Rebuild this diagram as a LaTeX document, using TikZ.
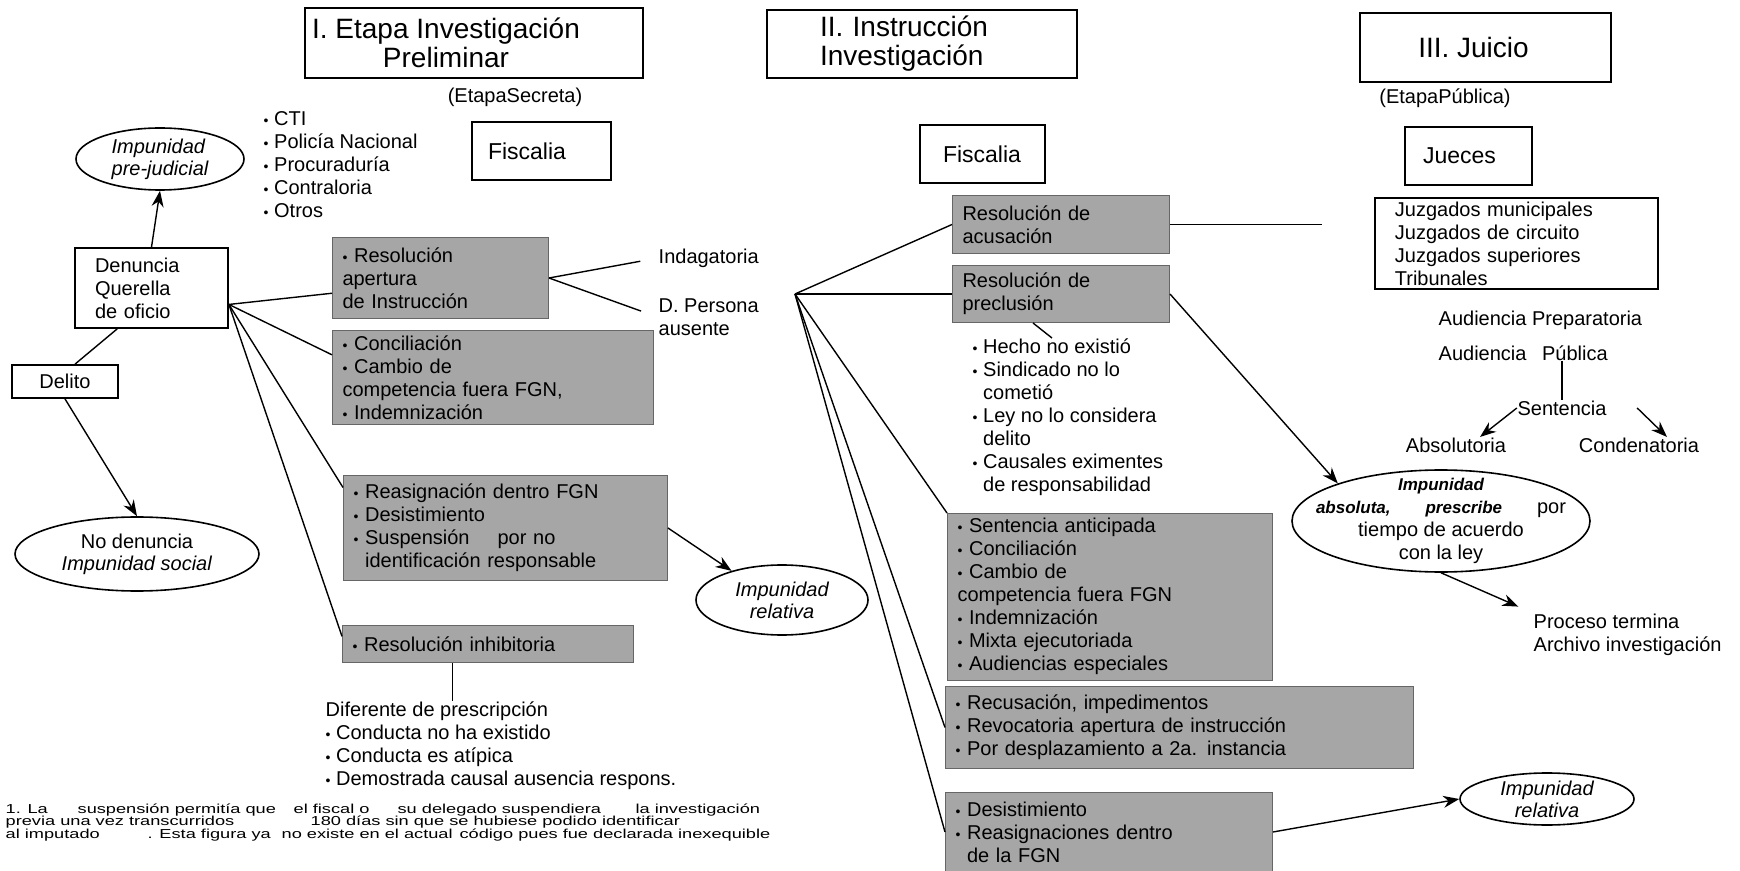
\documentclass[tikz,border=0pt]{standalone}
\usepackage{fontspec}
\setmainfont{Liberation Sans}
\newfontfamily\notefont{Liberation Sans}[FakeStretch=1.4]
\usetikzlibrary{arrows.meta,shapes.geometric}
\newcommand{\bu}{{\scriptsize\textbullet}\ }
\newcommand{\bfit}[1]{{\fontsize{8.5}{11}\selectfont\bfseries\itshape #1}}

\begin{document}
\begin{tikzpicture}[x=0.5pt, y=-0.5pt, line width=0.7pt,
  every node/.style={font=\fontsize{10}{11.5}\selectfont},
  titlebox/.style={draw, line width=1pt},
  titletxt/.style={inner sep=0pt, align=center, font=\fontsize{14}{14.5}\selectfont},
  plainbox/.style={draw, line width=0.9pt, inner sep=0pt},
  namebox/.style={plainbox, align=left, minimum height=29pt, font=\fontsize{11.5}{12}\selectfont},
  shbox/.style={fill=black!35, draw=black!60, line width=0.5pt, anchor=north west, align=left,
    inner xsep=5pt, inner ysep=2.5pt, text width=#1},
  oval/.style={ellipse, draw, line width=0.8pt, inner sep=0pt, align=center,
    font=\fontsize{10}{11}\selectfont\itshape},
  txt/.style={inner sep=0pt, align=left},
  arr/.style={-{Stealth[length=8pt,width=6pt]}}]
  \useasboundingbox (0,0) rectangle (1740,871);

  % Stage headers
  \node[titlebox, minimum width=169pt, minimum height=35pt,
    label={[titletxt, xshift=-14pt]center:{I. Etapa Investigación\\Preliminar}}] (etapa1) at (474,43) {};
  \node[titlebox, titletxt, minimum width=155pt, minimum height=34pt, align=left, text width=102pt, inner xsep=26.5pt] (etapa2) at (922,44) {II. Instrucción\\Investigación};
  \node[titlebox, minimum width=125.5pt, minimum height=34.5pt,
    label={[titletxt, xshift=-6pt]center:{III. Juicio}}] (etapa3) at (1485.5,47.5) {};
  \node[txt] (secreta) at (515,97) {(EtapaSecreta)};
  \node[txt] (publica) at (1445,98) {(EtapaPública)};

  % Who acts in each stage
  \node[namebox, text width=53.5pt, inner xsep=8pt] (fisc1) at (541.5,151) {Fiscalia};
  \node[namebox, text width=39.5pt, inner xsep=11.5pt] (fisc2) at (982.5,154) {Fiscalia};
  \node[namebox, text width=45.5pt, inner xsep=9pt] (jueces) at (1468.5,156) {Jueces};
  \node[plainbox, anchor=north west, minimum height=45.5pt, text width=121.5pt, inner xsep=10pt, align=left] (juzg) at (1374,197) {Juzgados municipales\\Juzgados de circuito\\Juzgados superiores\\Tribunales};
  \node[txt, anchor=north west] (entes) at (263,111) {\bu CTI\\\bu Policía Nacional\\\bu Procuraduría\\\bu Contraloria\\\bu Otros};

  % Stage I
  \node[oval, minimum width=84pt, minimum height=31pt, align=left] (imppre) at (160,159) {Impunidad\\pre-judicial};
  \node[plainbox, minimum width=76.5pt, minimum height=40pt, text width=56.5pt, inner xsep=10pt, align=left] (denun) at (151.5,288) {Denuncia\\Querella\\de oficio};
  \node[plainbox, minimum width=53pt, minimum height=16.5pt] (delito) at (65,381.5) {Delito};
  \node[oval, minimum width=122pt, minimum height=37pt, font=\fontsize{10}{11}\selectfont] (nodenun) at (137,554) {No denuncia\\\textit{Impunidad social}};

  \node[shbox=98pt, minimum height=40.5pt] (resap) at (332,237) {\bu Resolución\\apertura\\de Instrucción};
  \node[shbox=150.5pt] (concil) at (332,330) {\bu Conciliación\\\bu Cambio de\\competencia fuera FGN,\\\bu Indemnización};
  \node[shbox=152pt, minimum height=52.5pt] (reasig) at (343,475) {\bu Reasignación dentro FGN\\\bu Desistimiento\\\bu Suspensión\hspace{14pt}por no\\\hphantom{\bu}identificación responsable};
  \node[shbox=135.5pt, minimum height=18.5pt] (inhib) at (342,625) {\bu Resolución inhibitoria};
  \node[txt, anchor=west] (indag) at (658,258) {Indagatoria};
  \node[txt, anchor=north west] (dpers) at (658,298) {D. Persona\\ausente};
  \node[oval, minimum width=86pt, minimum height=35pt] (imprel1) at (782,600) {Impunidad\\relativa};
  \node[txt, anchor=north west] (difer) at (325,701) {Diferente de prescripción\\\bu Conducta no ha existido\\\bu Conducta es atípica\\\bu Demostrada causal ausencia respons.};

  % footnote
  \node[txt, anchor=north west, font={\fontsize{6.5}{6.3}\notefont\lineskiplimit=-5pt}] (nota) at (5,803) {%
    \makebox[36pt][l]{1. La}\makebox[108pt][l]{suspensión permitía que}\makebox[52pt][l]{el fiscal o}\makebox[119pt][l]{su delegado suspendiera}la investigación\\
    \makebox[152.5pt][l]{previa una vez transcurridos}180 días sin que se hubiese podido identificar\\
    \makebox[71pt][l]{al imputado}\makebox[67pt][l]{. Esta figura ya}\makebox[89pt][l]{no existe en el actual}código pues fue declarada inexequible};

  % Stage II
  \node[shbox=98.5pt, minimum height=29pt] (acus) at (952,195) {Resolución de\\acusación};
  \node[shbox=98.5pt, minimum height=28.5pt] (precl) at (952,265) {Resolución de\\preclusión};
  \node[txt, anchor=north west] (hecho) at (972,338) {\bu Hecho no existió\\\bu Sindicado no lo\\\hphantom{\bu}cometió\\\bu Ley no lo considera\\\hphantom{\bu}delito\\\bu Causales eximentes\\\hphantom{\bu}de responsabilidad};
  \node[shbox=152.5pt, minimum height=82pt] (sent) at (947,513) {\bu Sentencia anticipada\\\bu Conciliación\\\bu Cambio de\\competencia fuera FGN\\\bu Indemnización\\\bu Mixta ejecutoriada\\\bu Audiencias especiales};
  \node[shbox=224pt, minimum height=41pt] (recus) at (945,686) {\bu Recusación, impedimentos\\\bu Revocatoria apertura de instrucción\\\bu Por desplazamiento a 2a. instancia};
  \node[shbox=153.5pt, minimum height=39.5pt] (desist) at (945,792) {\bu Desistimiento\\\bu Reasignaciones dentro\\\hphantom{\bu}de la FGN};
  \node[oval, minimum width=149pt, minimum height=51pt,
    label={[txt, align=center]center:\bfit{Impunidad}\\\makebox[125pt]{\bfit{absoluta,}\hfill\bfit{prescribe}\hfill por}\\tiempo de acuerdo\\con la ley}] (absol) at (1441,521) {};
  \node[txt, anchor=north west] (proc) at (1533,613) {Proceso termina\\Archivo investigación};
  \node[oval, minimum width=87pt, minimum height=26pt] (imprel2) at (1547,799) {Impunidad\\relativa};

  % Stage III
  \node[txt, anchor=west] (audprep) at (1438,320) {Audiencia Preparatoria};
  \node[txt, anchor=west] (audpub) at (1438,353) {Audiencia\hspace{7.8pt}Pública};
  \node[txt] (sentc) at (1562,408) {Sentencia};
  \node[txt] (absolut) at (1456,445) {Absolutoria};
  \node[txt] (conden) at (1639,445) {Condenatoria};

  % Connectors, stage I
  \draw[arr] (denun.north) -- (imppre.south);
  \draw (denun.230) -- (delito.60);
  \draw[arr] (delito.south) -- (nodenun.north);
  \coordinate (fanA) at (denun.-12); % lines leave Denuncia here
  \foreach \t in {resap.188, concil.172, reasig.166, inhib.177}
    \draw (fanA) -- (\t);
  \draw[shorten >=9pt] (resap.east) -- (indag.west);
  \draw[shorten >=9pt] (resap.east) -- (dpers.west);
  \draw[arr] (reasig.east) -- (imprel1.150);
  \coordinate (inhibfoot) at ([xshift=-17.75pt]inhib.south);
  \draw (inhibfoot) -- (inhibfoot |- difer.north);

  % Connectors, stage II
  \coordinate (fanB) at ([xshift=-78.5pt]precl.west); % fan of stage II
  \foreach \t in {acus.west, precl.west, sent.north west, recus.west, desist.west}
    \draw (fanB) -- (\t);
  \draw[shorten >=26pt] (acus.east) -- (acus.east -| juzg.west);
  \draw ([xshift=-14pt]precl.south) -- ([xshift=-8pt]hecho.north);
  \draw[arr] (precl.east) -- (absol.160);
  \draw[arr, shorten >=8pt] (absol.south) -- (proc.north west);
  \draw[arr] (desist.east) -- (imprel2.west);

  % Connectors, stage III
  \draw (sentc.north |- audpub.south) -- (sentc.north);
  \draw[arr] (sentc.west) -- ([xshift=12pt]absolut.north);
  \draw[arr] ([xshift=15pt]sentc.east) -- ([xshift=14pt]conden.north);
\end{tikzpicture}
\end{document}
